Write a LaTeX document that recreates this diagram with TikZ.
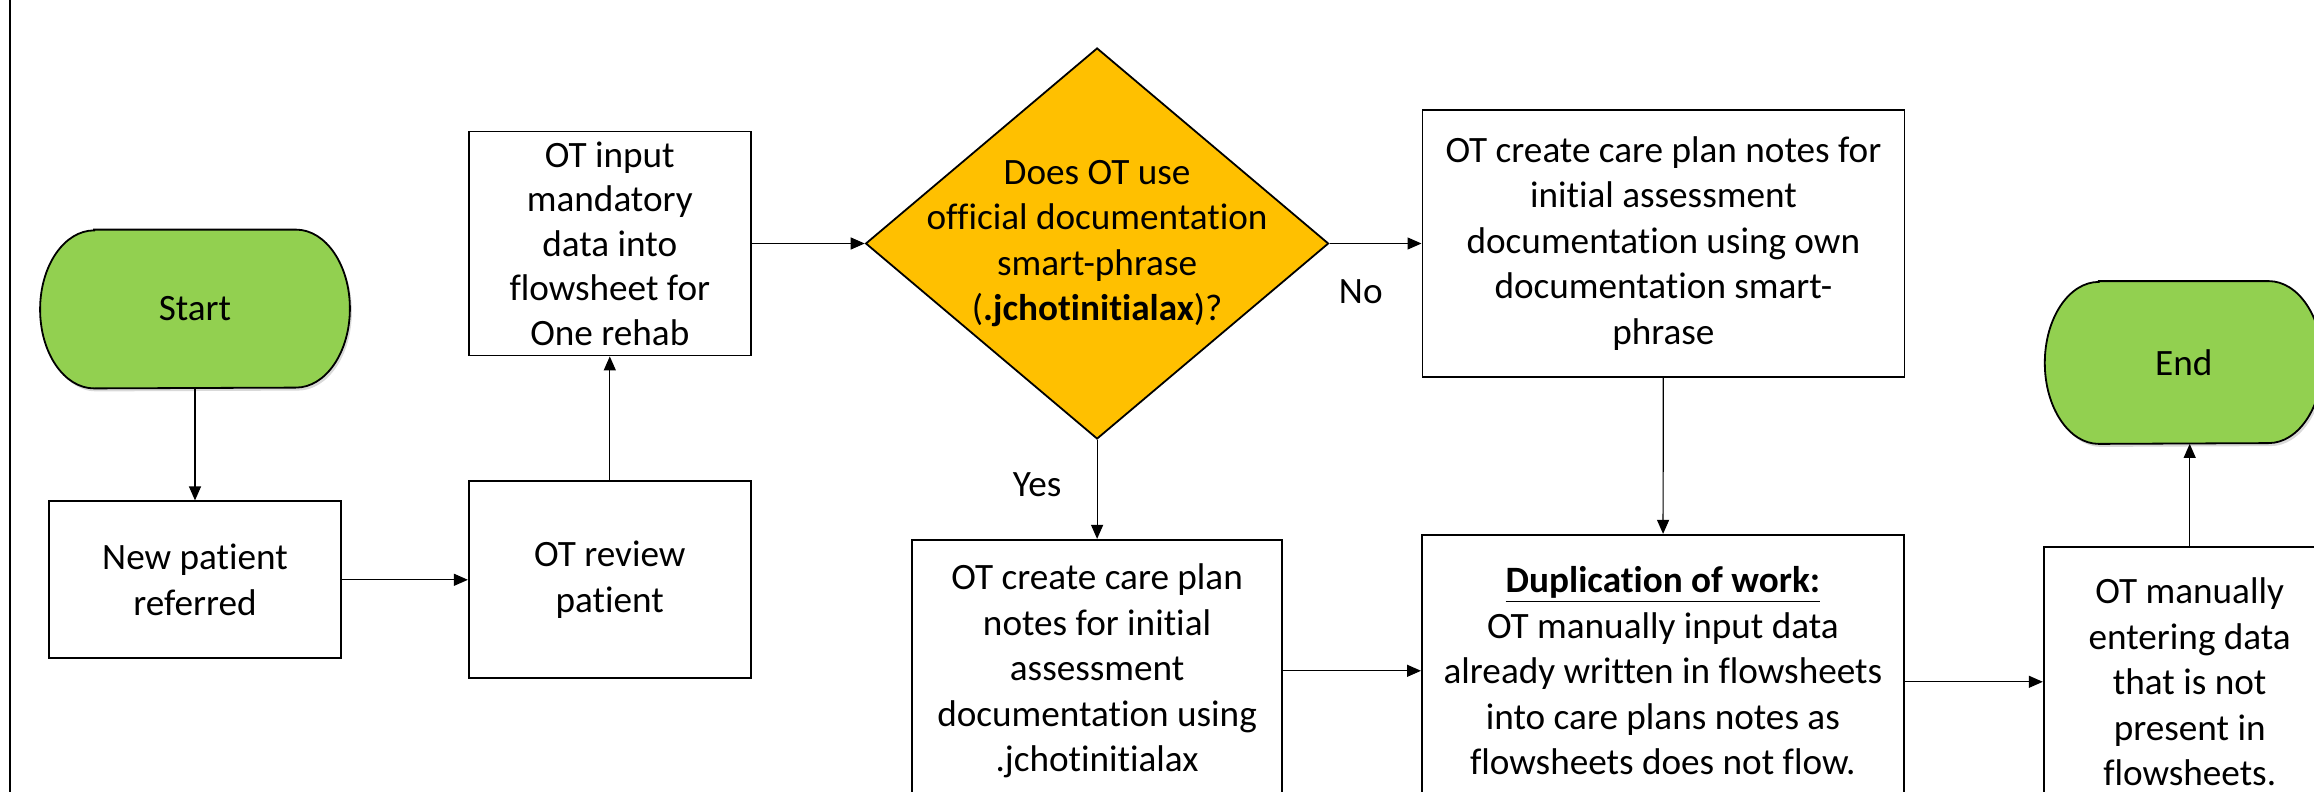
\documentclass[tikz,border=0pt]{standalone}
\usepackage{fontspec}
\setmainfont{Carlito}[Ligatures=NoCommon]
\usetikzlibrary{arrows.meta,shapes,positioning,shadows,backgrounds}
\definecolor{termgreen}{HTML}{92D050}
\definecolor{askorange}{HTML}{FFC000}
\tikzset{>={Triangle[length=7pt,width=6pt]}}
\tikzset{
  box/.style={draw, line width=0.9pt, rectangle, align=center, inner sep=1pt},
  terminal/.style={rectangle, inner sep=0pt},
  termline/.style={draw, line width=0.9pt, fill=termgreen,
    drop shadow={shadow xshift=1pt, shadow yshift=-1.5pt, opacity=0.3}},
  decision/.style={draw, line width=0.9pt, diamond, fill=askorange, inner sep=0pt,
    minimum width=231.5pt, minimum height=195.5pt},
  flow/.style={->, line width=0.6pt}
}
% outline with elliptic ends round a terminal node
\newcommand\termoutline[2]{%
  \path[termline] ([xshift=#2]#1.north west) -- ([xshift=-#2]#1.north east)
    arc[start angle=90, end angle=-90, x radius=#2, y radius=0.5*\pgfkeysvalueof{/pgf/minimum height}]
    -- ([xshift=#2]#1.south west)
    arc[start angle=270, end angle=90, x radius=#2, y radius=0.5*\pgfkeysvalueof{/pgf/minimum height}]
    -- cycle;}

\begin{document}
\begin{tikzpicture}[node distance=56pt, font=\fontsize{18.6pt}{22.75pt}\selectfont]

  \useasboundingbox (0,0) rectangle (1157pt,-396pt);
  \draw[line width=1.1pt] (5pt,0) -- (5pt,-396pt);

  \node[terminal, minimum width=154.5pt, minimum height=79pt] (start) at (97.5pt,-154.5pt) {Start};
  \node[box, minimum width=146pt, minimum height=78.5pt] (new) [below = 56pt of start] {New patient\\referred};
  \node[box, minimum width=141pt, minimum height=98.5pt] (review) [right = 63pt of new] {OT review\\patient};
  \node[box, minimum width=141pt, minimum height=112pt, font=\fontsize{18.6pt}{22.25pt}\selectfont]
    (input) [above = 62pt of review] {OT input\\mandatory\\data into\\flowsheet for\\One rehab};

  \node[decision, label={[align=center]center:{Does OT use\\official documentation\\smart-phrase\\(\textbf{.jchotinitialax})?}}]
    (ask) [right = 56.5pt of input] {};

  \node[box, minimum width=241pt, minimum height=133.5pt] (ownphrase) [right = 46pt of ask]
    {OT create care plan notes for\\initial assessment\\documentation using own\\documentation smart-\\phrase};
  \node[box, minimum width=185pt, minimum height=131pt] (official) [below = 49.5pt of ask]
    {OT create care plan\\notes for initial\\assessment\\documentation using\\.jchotinitialax};

  \node[box, minimum width=241pt, minimum height=136pt] (dup) [right = 69pt of official]
    {\underline{\textbf{Duplication of work:}}\\OT manually input data\\already written in flowsheets\\into care plans notes as\\flowsheets does not flow.};
  \node[box, minimum width=146pt, minimum height=135pt] (manual) [right = 69pt of dup, yshift=-5.5pt]
    {OT manually\\entering data\\that is not\\present in\\flowsheets.};
  \node[terminal, minimum width=138.5pt, minimum height=81pt] (finish) [above = 51pt of manual, xshift=-3pt] {End};

  \begin{pgfonlayer}{background}
    \begin{scope}[minimum height=79pt]
      \termoutline{start}{27pt}
    \end{scope}
    \begin{scope}[minimum height=81pt]
      \termoutline{finish}{27pt}
    \end{scope}
  \end{pgfonlayer}

  \draw[flow] (start) -- (new);
  \draw[flow] (new) -- (review);
  \draw[flow] (review) -- (input);
  \draw[flow] (input) -- (ask);
  \draw[flow] (ask.east) -- node[pos=0.34, yshift=-24pt] {No} (ownphrase.west);
  \draw[flow] (ask.south) -- node[pos=0.45, xshift=-30pt] {Yes} (official.north);
  \draw[flow] (ownphrase) -- (dup);
  \draw[flow] (official) -- (dup);
  \draw[flow] (dup.east |- manual.west) -- (manual.west);
  \draw[flow] (manual.north) -- (manual.north |- finish.south);

\end{tikzpicture}
\end{document}
